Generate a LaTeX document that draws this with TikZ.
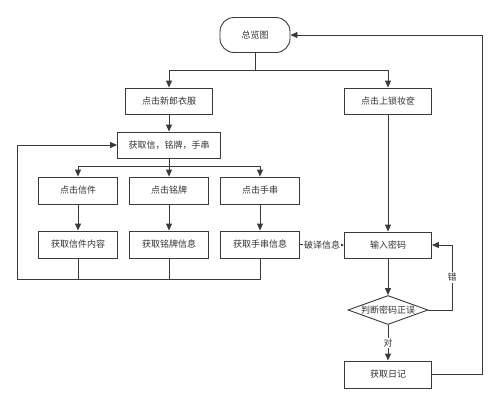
\documentclass[tikz,border=0pt]{standalone}
\usepackage{fontspec}
\newfontfamily\cjk{Noto Sans CJK SC}
\usetikzlibrary{arrows.meta,shapes.geometric}
\definecolor{linec}{HTML}{3A3A3A}
\definecolor{textc}{HTML}{333333}
\begin{document}
\begin{tikzpicture}[x=1pt,y=-1pt,
  font=\cjk\fontsize{9}{10}\selectfont,
  line width=0.9pt,
  box/.style={draw=linec, fill=white, text=textc, minimum width=87pt, minimum height=26pt, inner sep=0pt},
  sbox/.style={box, minimum width=79pt, minimum height=27pt},
  term/.style={box, minimum width=70pt, minimum height=35pt, rounded corners=14pt},
  dia/.style={draw=linec, fill=white, text=textc, diamond, aspect=2.76, minimum width=80pt, minimum height=29pt, inner sep=0pt},
  lbl/.style={fill=white, text=textc, inner sep=1pt},
  conn/.style={draw=linec},
  arr/.style={draw=linec, -{Triangle[length=7pt,width=6pt]}}]
\useasboundingbox (0,0) rectangle (500,405);
\fill[white] (0,0) rectangle (500,405);

\node[term] (top) at (255,35) {总览图};
\node[box] (groom) at (169,101) {点击新郎衣服};
\node[box] (lock) at (388,101) {点击上锁妆奁};
\node[box, minimum width=103pt] (get) at (169,145) {获取信，铭牌，手串};
\node[sbox] (c1) at (78,190.5) {点击信件};
\node[sbox] (c2) at (169,190.5) {点击铭牌};
\node[sbox] (c3) at (260,190.5) {点击手串};
\node[sbox] (r1) at (78,244.5) {获取信件内容};
\node[sbox] (r2) at (169,244.5) {获取铭牌信息};
\node[sbox] (r3) at (260,244.5) {获取手串信息};
\node[box] (pwd) at (388,245) {输入密码};
\node[dia] (chk) at (388,310) {\makebox[40pt]{判断密码正误}};
\node[box, minimum height=27pt] (diary) at (388,374.5) {获取日记};

\coordinate (s1) at (255,70);
\coordinate (s2) at (169,166);
\coordinate (lb) at (17,279);
\coordinate (errc) at (452,310);
\coordinate (dc) at (482,374.5);

\draw[conn] (top.south) -- (s1);
\draw[arr] (s1) -| (groom.north);
\draw[arr] (s1) -| (lock.north);
\draw[arr] (groom.south) -- (get.north);
\draw[conn] (get.south) -- (s2);
\draw[arr] (s2) -| (c1.north);
\draw[arr] (s2) -- (c2.north);
\draw[arr] (s2) -| (c3.north);
\draw[arr] (c1.south) -- (r1.north);
\draw[arr] (c2.south) -- (r2.north);
\draw[arr] (c3.south) -- (r3.north);
\draw[conn] (r1.south) -- (r1.south |- lb);
\draw[conn] (r2.south) -- (r2.south |- lb);
\draw[arr] (r3.south) |- (lb) |- (get.west);
\draw[arr] (r3.east) -- node[lbl]{破译信息} (pwd.west);
\draw[arr] (lock.south) -- (pwd.north);
\draw[arr] (pwd.south) -- (chk.north);
\draw[arr] (chk.east) -- (errc) |- node[pos=0.25, lbl]{错} (pwd.east);
\draw[arr] (chk.south) -- node[lbl]{对} (diary.north);
\draw[arr] (diary.east) -- (dc) |- (top.east);
\end{tikzpicture}
\end{document}
